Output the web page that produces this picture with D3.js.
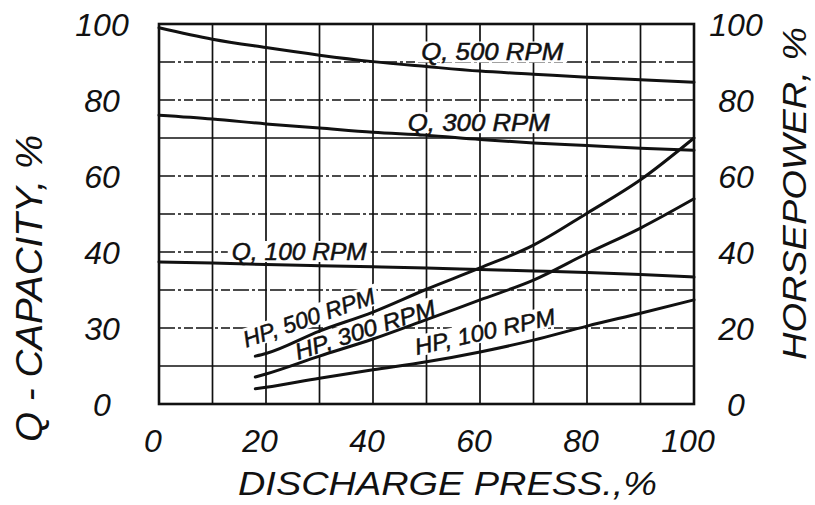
<!DOCTYPE html>
<html>
<head>
<meta charset="utf-8">
<script src="https://cdn.jsdelivr.net/npm/d3@7"></script>
<style>
  html, body { margin: 0; padding: 0; background: #fff; }
  svg text { font-family: "Liberation Sans", Arial, sans-serif; font-style: italic; fill: #111; }
</style>
</head>
<body>
<svg id="chart" width="815" height="505"></svg>
<script>
// Discharge pressure (%) for the capacity curves
const pressure = [0, 10, 20, 30, 40, 50, 60, 70, 80, 90, 100];
// Capacity Q (%) at each speed
const qAt500 = [99, 96, 93.8, 91.8, 90.1, 88.8, 87.6, 86.8, 86, 85.3, 84.7];
const qAt300 = [76, 75, 73.7, 72.6, 71.5, 70.7, 69.6, 68.7, 68, 67.3, 66.8];
const qAt100 = [37.4, 37.1, 36.7, 36.4, 36.1, 35.8, 35.4, 35, 34.6, 34.1, 33.4];

// Discharge pressure (%) for the horsepower curves
const hpPressure = [18, 20, 30, 40, 50, 60, 70, 80, 90, 100];
// Horsepower (%) at each speed
const hpAt500 = [12.6, 13.3, 19.2, 24.2, 30.2, 35.8, 41.8, 50.2, 59, 70];
const hpAt300 = [7.1, 7.9, 12.6, 17.1, 22.2, 27.4, 32.6, 39.6, 46.3, 54];
const hpAt100 = [4.0, 4.4, 6.8, 9.0, 11.1, 13.7, 16.8, 20.5, 23.9, 27.4];

// Tick labels
const xTickValues = [0, 20, 40, 60, 80, 100];
const xTickText = ["0", "20", "40", "60", "80", "100"];
const leftTickValues = [0, 20, 40, 60, 80, 100];
const leftTickText = ["0", "30", "40", "60", "80", "100"];
const rightTickValues = [0, 20, 40, 60, 80, 100];
const rightTickText = ["0", "20", "40", "60", "80", "100"];

// Curve names
const curveNames = ["Q, 500 RPM", "Q, 300 RPM", "Q, 100 RPM", "HP, 500 RPM", "HP, 300 RPM", "HP, 100 RPM"];

// Where each curve name sits (data units) and how it is tilted
const labelSpots = [
  { p: 49.0, v: 90.4, angle: 0,     len: 142 },
  { p: 46.5, v: 71.8, angle: 0,     len: 142 },
  { p: 13.6, v: 37.9, angle: 0,     len: 135 },
  { p: 16.3, v: 14.8, angle: -19,   len: 138 },
  { p: 26.0, v: 11.6, angle: -18,   len: 146 },
  { p: 48.2, v: 12.9, angle: -12.5, len: 143 }
];

const svg = d3.select("#chart");
const plotLeft = 159, plotRight = 694, plotTop = 24, plotBottom = 404;

const x = d3.scaleLinear().domain([0, 100]).range([plotLeft, plotRight]);
const yQ = d3.scaleLinear().domain([0, 100]).range([plotBottom, plotTop]);
const yHP = d3.scaleLinear().domain([0, 100]).range([plotBottom, plotTop]);

svg.append("rect").attr("width", 815).attr("height", 505).attr("fill", "#fff");

// Grid: solid verticals, broken dash-dot horizontals
const gridTicks = d3.range(0, 101, 10);
const grid = svg.append("g");
grid.selectAll("line.v").data(gridTicks).join("line")
  .attr("class", "v")
  .attr("x1", d => x(d)).attr("x2", d => x(d))
  .attr("y1", plotTop).attr("y2", plotBottom)
  .attr("stroke", "#111").attr("stroke-width", 1.7);
grid.selectAll("line.h").data(gridTicks).join("line")
  .attr("class", "h")
  .attr("x1", plotLeft).attr("x2", plotRight)
  .attr("y1", d => yQ(d)).attr("y2", d => yQ(d))
  .attr("stroke", "#111").attr("stroke-width", 1.5)
  .attr("stroke-dasharray", d => (d === 10 || d === 70) ? null : "16,3,3,3,9,3");

// Paper behind the curve names, breaking the grid
const nameLayer = svg.append("g");
labelSpots.forEach((s, i) => {
  nameLayer.append("rect")
    .attr("transform", `translate(${x(s.p)},${yQ(s.v)}) rotate(${s.angle})`)
    .attr("x", -4).attr("y", -19).attr("width", s.len + 8).attr("height", 21)
    .attr("fill", "#fff");
});

// Frame
svg.append("rect")
  .attr("x", plotLeft).attr("y", plotTop)
  .attr("width", plotRight - plotLeft).attr("height", plotBottom - plotTop)
  .attr("fill", "none").attr("stroke", "#111").attr("stroke-width", 2.6);

// Curves
const qLine = d3.line().x((d, i) => x(pressure[i])).y(d => yQ(d)).curve(d3.curveMonotoneX);
const hpLine = d3.line().x((d, i) => x(hpPressure[i])).y(d => yHP(d)).curve(d3.curveMonotoneX);
[qAt500, qAt300, qAt100].forEach(s => {
  svg.append("path").attr("d", qLine(s)).attr("fill", "none")
    .attr("stroke", "#111").attr("stroke-width", 3).attr("stroke-linecap", "round");
});
[hpAt500, hpAt300, hpAt100].forEach(s => {
  svg.append("path").attr("d", hpLine(s)).attr("fill", "none")
    .attr("stroke", "#111").attr("stroke-width", 3).attr("stroke-linecap", "round");
});

// Curve names
labelSpots.forEach((s, i) => {
  svg.append("text")
    .attr("transform", `translate(${x(s.p)},${yQ(s.v)}) rotate(${s.angle})`)
    .attr("font-size", 23)
    .attr("stroke", "#111").attr("stroke-width", 0.5)
    .attr("textLength", s.len).attr("lengthAdjust", "spacingAndGlyphs")
    .text(curveNames[i]);
});

// X tick labels
svg.append("g").selectAll("text").data(xTickValues).join("text")
  .attr("x", d => x(d) - 6).attr("y", 452)
  .attr("text-anchor", "middle").attr("font-size", 32)
  .text((d, i) => xTickText[i]);

// Left tick labels
svg.append("g").selectAll("text").data(leftTickValues).join("text")
  .attr("x", 102).attr("y", d => yQ(d) + 12)
  .attr("text-anchor", "middle").attr("font-size", 32)
  .text((d, i) => leftTickText[i]);

// Right tick labels
svg.append("g").selectAll("text").data(rightTickValues).join("text")
  .attr("x", 736).attr("y", d => yHP(d) + 12)
  .attr("text-anchor", "middle").attr("font-size", 32)
  .text((d, i) => rightTickText[i]);

// Axis titles
svg.append("text")
  .attr("x", 238).attr("y", 495)
  .attr("font-size", 34)
  .attr("textLength", 419).attr("lengthAdjust", "spacingAndGlyphs")
  .text("DISCHARGE PRESS.,%");

svg.append("text")
  .attr("transform", "translate(42,442) rotate(-90)")
  .attr("font-size", 36)
  .attr("textLength", 307).attr("lengthAdjust", "spacingAndGlyphs")
  .text("Q - CAPACITY, %");

svg.append("text")
  .attr("transform", "translate(806,360) rotate(-90)")
  .attr("font-size", 34)
  .attr("textLength", 333).attr("lengthAdjust", "spacingAndGlyphs")
  .text("HORSEPOWER, %");
</script>
</body>
</html>
